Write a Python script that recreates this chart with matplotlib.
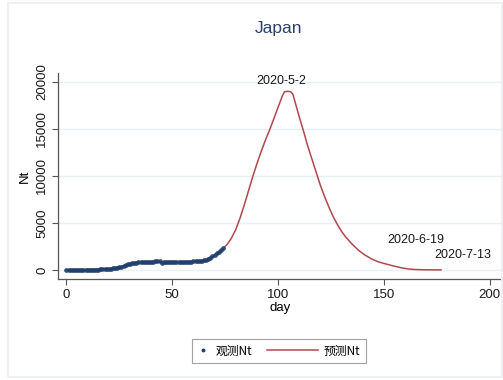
import numpy as np
import matplotlib
matplotlib.use("Agg")
import matplotlib.pyplot as plt
from matplotlib.legend_handler import HandlerLine2D
from matplotlib.lines import Line2D
from matplotlib.patches import Rectangle

plt.rcParams['font.family'] = ['Liberation Sans', 'Noto Sans CJK SC', 'DejaVu Sans']

# observed Nt, day 0..74
obs_nt = [5, 8, 10, 12, 15, 18, 20, 22, 25, 28, 30, 33, 35, 38, 40, 45,
          55, 65, 80, 100, 120, 150, 180,
          220, 260, 300, 360, 430, 520, 600, 680,
          720, 750, 780, 800, 820, 840, 850, 870, 880, 890, 900, 910, 930, 950,
          790,
          800, 805, 810, 815, 820, 830, 840, 845, 850, 860, 870, 880, 890, 900,
          910, 920, 940, 960, 980,
          1020, 1100, 1200, 1320, 1450, 1600, 1780, 1950, 2150, 2350]
obs_day = list(range(len(obs_nt)))

# predicted Nt
pred_day = [0, 10, 20, 25, 30, 35, 40, 45, 50, 55, 60, 65, 68, 70, 72, 74,
            76, 78, 80, 82, 84, 86, 88, 90, 92, 94, 96, 98, 100, 102, 103,
            104, 105, 106, 107, 108, 110, 112, 114, 116, 118, 120, 122, 124,
            126, 128, 130, 132, 135, 138, 141, 144, 147, 150, 153, 156, 159,
            162, 165, 170, 177]
pred_nt = [20, 40, 130, 300, 650, 800, 880, 820, 830, 860, 900, 1000, 1250,
           1550, 1900, 2250, 2750, 3400, 4300, 5500, 6900, 8400, 9900, 11300,
           12600, 13800, 14900, 16100, 17300, 18500, 18950, 19000, 19000,
           18950, 18700, 17900, 16300, 14800, 13200, 11800, 10400, 9000, 7800,
           6700, 5700, 4850, 4100, 3500, 2750, 2100, 1600, 1200, 900, 700, 520,
           350, 200, 100, 50, 20, 10]

# date labels
lab_text = ["2020-5-2", "2020-6-19", "2020-7-13"]
lab_day = [101.4, 151.4, 174.0]
lab_nt = [19500, 3190, 1600]
lab_ha = ["center", "left", "left"]
lab_va = ["bottom", "center", "center"]

navy = "#1f3f6e"
maroon = "#b0474e"
axcol = "#555555"

fig = plt.figure(figsize=(5.03, 3.80), dpi=100)
fig.patches.append(Rectangle((8 / 503, 3 / 380), 494 / 503, 374 / 380,
                             transform=fig.transFigure, fill=False,
                             edgecolor="#edf1f5", linewidth=1.5))
ax = fig.add_axes([58 / 503, 1 - 279 / 380, 445 / 503, 206 / 380])

ax.plot(pred_day, pred_nt, color=maroon, linewidth=1.1, zorder=2)
ax.plot(obs_day, obs_nt, linestyle="none", marker="o", markersize=3.4,
        color=navy, markeredgewidth=0, alpha=0.9, zorder=3)

for t, d, v, ha, va in zip(lab_text, lab_day, lab_nt, lab_ha, lab_va):
    ax.text(d, v, t, ha=ha, va=va, fontsize=9, color="#1a1a1a")

ax.set_xlim(-4.0, 206.3)
ax.set_ylim(-957, 20957)
ax.set_xticks([0, 50, 100, 150, 200])
ax.set_yticks([0, 5000, 10000, 15000, 20000])
ax.tick_params(axis="y", labelrotation=90, labelsize=9.5, colors="#1a1a1a",
               length=4, color=axcol, pad=3)
ax.tick_params(axis="x", labelsize=9.5, colors="#1a1a1a", length=4,
               color=axcol, pad=3)
for lbl in ax.get_yticklabels():
    lbl.set_va("center")
ax.grid(axis="y", color="#eaeff2", linewidth=1.0)
ax.set_axisbelow(True)
for s in ["top", "right"]:
    ax.spines[s].set_visible(False)
for s in ["left", "bottom"]:
    ax.spines[s].set_color(axcol)
    ax.spines[s].set_linewidth(0.9)

ax.set_xlabel("day", fontsize=9.5, labelpad=1)
ax.set_ylabel("Nt", fontsize=9.5, labelpad=4)
fig.text(279 / 503, 1 - 28 / 380, "Japan", ha="center", va="center",
         fontsize=12.5, color="#2c3e6e")


class LongLine(HandlerLine2D):
    def get_xdata(self, legend, xdescent, ydescent, width, height, fontsize):
        xd = np.array([-xdescent - 3.3 * width, -xdescent + width])
        return xd, np.array([-xdescent + width / 2])


h_obs = Line2D([], [], linestyle="none", marker="o", markersize=2.8,
               color=navy, markeredgewidth=0)
h_pred = Line2D([], [], color=maroon, linewidth=1.1)
leg = fig.legend([h_obs, h_pred], ["观测Nt", "预测Nt"], ncol=2,
                 loc="center", bbox_to_anchor=(279 / 503, 1 - 351 / 380),
                 prop={"family": ["Noto Sans CJK SC", "DejaVu Sans"], "size": 8.5},
                 handlelength=1.0, handletextpad=0.5, columnspacing=4.6,
                 borderpad=0.45, fancybox=False, numpoints=1,
                 handler_map={h_pred: LongLine()})
leg.get_frame().set_edgecolor("#8a8a8a")
leg.get_frame().set_linewidth(0.8)

fig.savefig("out.png", dpi=100)
